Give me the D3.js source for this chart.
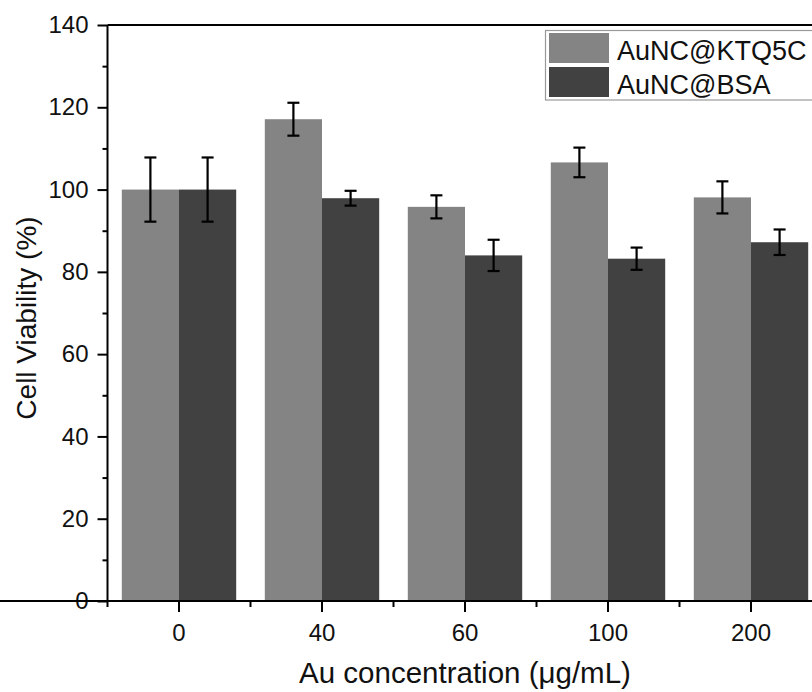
<!DOCTYPE html>
<html><head><meta charset="utf-8">
<script src="https://cdn.jsdelivr.net/npm/d3@7"></script>
<style>body{margin:0;background:#fff}svg{display:block}text{font-family:"Liberation Sans",Arial,sans-serif;fill:#111}</style>
</head><body>
<svg id="c" width="812" height="692"></svg>
<script>
const categories = ["0","40","60","100","200"];
const seriesNames = ["AuNC@KTQ5C","AuNC@BSA"];
const ktq5cMean = [100, 117.1, 95.8, 106.6, 98.1];
const ktq5cErr  = [7.8, 4.0, 2.8, 3.6, 3.9];
const bsaMean   = [100, 97.9, 84.0, 83.2, 87.2];
const bsaErr    = [7.8, 1.8, 3.8, 2.7, 3.1];
const yTicks = [0,20,40,60,80,100,120,140];
const colors = ["#848484","#414141"];

const svg = d3.select("#c");
const L = 107.5, R = 822.5, T = 25, B = 601;
const x = d3.scaleBand().domain(categories).range([L,R]).paddingInner(0.2).paddingOuter(0.1);
const xs = d3.scaleBand().domain(seriesNames).range([0,x.bandwidth()]);
const y = d3.scaleLinear().domain([0,140]).range([B,T]);

const series = [
  {name:seriesNames[0], mean:ktq5cMean, err:ktq5cErr, color:colors[0]},
  {name:seriesNames[1], mean:bsaMean, err:bsaErr, color:colors[1]}
];

// bars
series.forEach(s=>{
  const g = svg.append("g");
  g.selectAll("rect").data(categories).join("rect")
    .attr("x",(c)=>x(c)+xs(s.name))
    .attr("width",xs.bandwidth())
    .attr("y",(c,i)=>y(s.mean[i]))
    .attr("height",(c,i)=>y(0)-y(s.mean[i]))
    .attr("fill",s.color);
});
// error bars
series.forEach(s=>{
  const g = svg.append("g").attr("stroke","#000").attr("stroke-width",2.2);
  categories.forEach((c,i)=>{
    const cx = x(c)+xs(s.name)+xs.bandwidth()/2;
    const y1 = y(s.mean[i]+s.err[i]), y2 = y(s.mean[i]-s.err[i]);
    g.append("line").attr("x1",cx).attr("x2",cx).attr("y1",y1).attr("y2",y2);
    g.append("line").attr("x1",cx-6).attr("x2",cx+6).attr("y1",y1).attr("y2",y1);
    g.append("line").attr("x1",cx-6).attr("x2",cx+6).attr("y1",y2).attr("y2",y2);
  });
});

// y axis
const yAxis = svg.append("g").attr("transform",`translate(${L},0)`)
  .call(d3.axisLeft(y).tickValues(yTicks).tickSize(10).tickPadding(9));
const yMinor = svg.append("g").attr("transform",`translate(${L},0)`)
  .call(d3.axisLeft(y).tickValues(d3.range(10,140,20)).tickSize(5).tickFormat(""));
// x axis
const xAxis = svg.append("g").attr("transform",`translate(0,${B})`)
  .call(d3.axisBottom(x).tickSize(11).tickPadding(12));
const bounds = d3.range(categories.length+1).map(i=>L + i*x.step());
const xMinor = svg.append("g").attr("transform",`translate(0,${B})`);
xMinor.selectAll("line").data(bounds).join("line")
  .attr("x1",d=>d).attr("x2",d=>d).attr("y1",0).attr("y2",6)
  .attr("stroke","#000").attr("stroke-width",2);
[yAxis,yMinor,xAxis].forEach(a=>{
  a.attr("font-size",24);
  a.select(".domain").attr("stroke","#000").attr("stroke-width",2);
  a.selectAll(".tick line").attr("stroke","#000").attr("stroke-width",2);
  a.selectAll(".tick text").attr("font-size",24).style("font-family",'"Liberation Sans",Arial,sans-serif').attr("fill","#111");
});
yAxis.select(".domain").attr("d",`M0,${B}V${T}`);
yMinor.select(".domain").remove();
xAxis.select(".domain").attr("d",`M0,0H${R}`);
// top frame
svg.append("line").attr("x1",L).attr("x2",R).attr("y1",T).attr("y2",T).attr("stroke","#000").attr("stroke-width",2);

// titles
svg.append("text").attr("x",(L+R)/2).attr("y",683).attr("text-anchor","middle").attr("font-size",29.5)
  .text("Au concentration (μg/mL)");
svg.append("text").attr("transform",`translate(36,${(T+B)/2+5}) rotate(-90)`).attr("text-anchor","middle").attr("font-size",28)
  .text("Cell Viability (%)");

// legend
const lg = svg.append("g");
lg.append("rect").attr("x",545.5).attr("y",30.5).attr("width",300).attr("height",69.5)
  .attr("fill","#fff").attr("stroke","#999").attr("stroke-width",1.2);
series.forEach((s,i)=>{
  lg.append("rect").attr("x",549).attr("y",33+i*34).attr("width",60).attr("height",30).attr("fill",s.color);
  lg.append("text").attr("x",617).attr("y",60+i*34).attr("font-size",27).text(s.name);
});
</script>
</body></html>
